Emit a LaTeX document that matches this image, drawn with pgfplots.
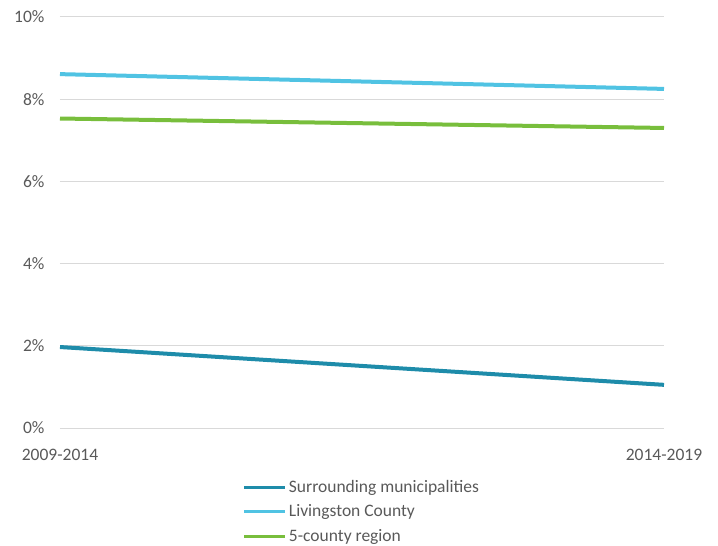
\documentclass[border=0pt]{standalone}
\usepackage{pgfplots}
\pgfplotsset{compat=1.18}
\usepackage{fontspec}
\setmainfont{Carlito}
\definecolor{txt}{HTML}{595959}
\definecolor{grd}{HTML}{D9D9D9}
\definecolor{cdark}{HTML}{1E8CAA}
\definecolor{clight}{HTML}{50C3E3}
\definecolor{cgreen}{HTML}{78BE3C}
\begin{document}
\begin{tikzpicture}
\begin{axis}[
  scale only axis,
  width=604bp, height=411bp,
  xmin=0, xmax=1, ymin=0, ymax=10,
  axis line style={draw=none},
  ymajorgrids, grid style={grd, line width=1bp},
  ytick={0,2,4,6,8,10},
  yticklabels={0\%,2\%,4\%,6\%,8\%,10\%},
  xtick={0,1},
  xticklabels={2009-2014,2014-2019},
  major tick length=0pt,
  tick style={draw=none},
  every tick label/.append style={font=\fontsize{17.5bp}{20bp}\selectfont, text=txt},
  yticklabel style={xshift=-12bp},
  xticklabel style={yshift=-18bp},
  clip=false,
  legend cell align=left,
  legend style={at={(axis description cs:0.5,0)}, anchor=north, yshift=-50bp,
    draw=none, fill=none, font=\fontsize{17.5bp}{20bp}\selectfont, text=txt,
    row sep=7bp, inner sep=0pt},
  legend image code/.code={\draw[#1, line width=3bp] (0bp,0bp) -- (41bp,0bp);},
]
\addplot[cdark, line width=4bp] coordinates {(0,1.97) (1,1.05)};
\addlegendentry{Surrounding municipalities}
\addplot[clight, line width=4bp] coordinates {(0,8.61) (1,8.25)};
\addlegendentry{Livingston County}
\addplot[cgreen, line width=4bp] coordinates {(0,7.53) (1,7.30)};
\addlegendentry{5-county region}
\end{axis}
\path (current axis.south west) ++(-60bp,-118bp) rectangle ++(718bp,546bp);
\end{tikzpicture}
\end{document}
